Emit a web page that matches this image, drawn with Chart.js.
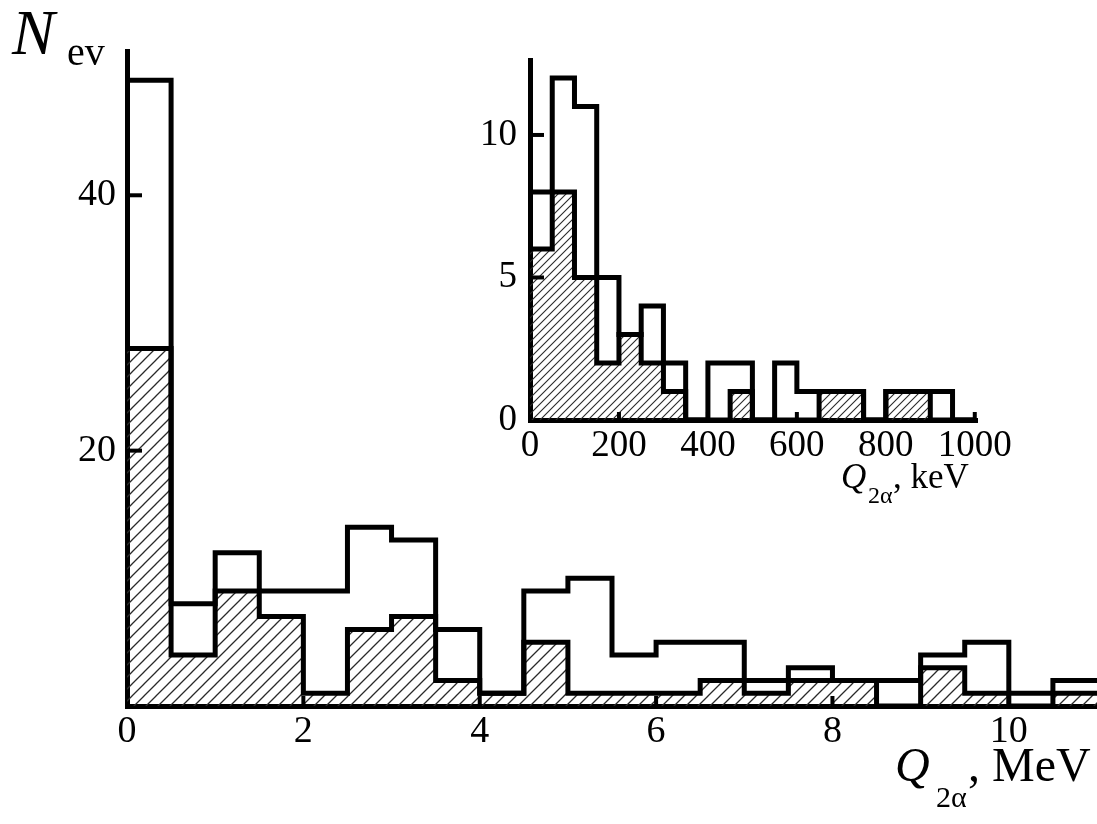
<!DOCTYPE html>
<html>
<head>
<meta charset="utf-8">
<script src="https://cdn.jsdelivr.net/npm/chart.js@4.4.1/dist/chart.umd.min.js"></script>
<style>
  body { margin: 0; background: #fff; }
  #wrap { position: relative; width: 1097px; height: 824px; }
  canvas { position: absolute; left: 0; top: 0; }
</style>
</head>
<body>
<div id="wrap">
  <canvas id="mainChart" width="1097" height="824"></canvas>
  <canvas id="insetChart" width="1097" height="824"></canvas>
</div>
<script>
// main histogram: 0.5 MeV bins from 0
const mevBinWidth = 0.5;
const mevAll = [49, 8, 12, 9, 9, 14, 13, 6, 1, 9, 10, 4, 5, 5, 2, 3, 2, 2, 4, 5, 1, 2];
const mevHatched = [28, 4, 9, 7, 1, 6, 7, 2, 1, 5, 1, 1, 1, 2, 1, 2, 2, 0, 3, 1, 0, 1];
const mevTicks = [0, 2, 4, 6, 8, 10];
const countTicks = [20, 40];

// inset: 50 keV bins from 0
const kevBinWidth = 50;
const kevAll = [8, 12, 11, 5, 3, 4, 2, 0, 2, 2, 0, 2, 1, 1, 1, 0, 1, 1, 1, 0];
const kevHatched = [6, 8, 5, 2, 3, 2, 1, 0, 0, 1, 0, 0, 0, 1, 1, 0, 1, 1, 0, 0];
const kevTicks = [0, 200, 400, 600, 800, 1000];
const insetCountTicks = [0, 5, 10];

const serif = "'Liberation Serif', 'DejaVu Serif', serif";
Chart.defaults.font.family = serif;
Chart.defaults.color = '#000';

// histogram outline as step points: one point per bin edge,
// 'before' keeps each count level until the next edge
function steps(counts, w) {
  const pts = counts.map((c, i) => ({x: i * w, y: c}));
  pts.push({x: counts.length * w, y: counts[counts.length - 1]});
  return pts;
}

// "/" hatching tile
function hatch(step, lw) {
  const c = document.createElement('canvas');
  c.width = step; c.height = step;
  const g = c.getContext('2d');
  g.strokeStyle = '#2a2a2a';
  g.lineWidth = lw;
  g.beginPath();
  g.moveTo(-1, step + 1); g.lineTo(step + 1, -1);
  g.moveTo(-1, 1); g.lineTo(1, -1);
  g.moveTo(step - 1, step + 1); g.lineTo(step + 1, step - 1);
  g.stroke();
  return g.createPattern(c, 'repeat');
}

function histSets(all, hatched, w, pattern) {
  const common = {stepped: 'before', pointRadius: 0, borderColor: '#000', borderWidth: 5,
                  borderJoinStyle: 'miter', borderCapStyle: 'butt'};
  return [
    Object.assign({data: steps(all, w), fill: false}, common),
    Object.assign({data: steps(hatched, w), fill: 'origin', backgroundColor: pattern}, common)
  ];
}

// tick marks pointing into the plot
const innerTicks = {
  id: 'innerTicks',
  afterDraw(chart, args, o) {
    const {ctx, scales: {x, y}} = chart;
    ctx.save();
    ctx.strokeStyle = '#000';
    ctx.lineWidth = o.width;
    o.xTicks.forEach(v => {
      const px = x.getPixelForValue(v);
      ctx.beginPath(); ctx.moveTo(px, y.bottom); ctx.lineTo(px, y.bottom - o.xLen); ctx.stroke();
    });
    o.yTicks.forEach(v => {
      const py = y.getPixelForValue(v);
      ctx.beginPath(); ctx.moveTo(x.left, py); ctx.lineTo(x.left + o.yLen, py); ctx.stroke();
    });
    ctx.restore();
  }
};

// axis titles with italic symbols and subscripts
const titles = {
  id: 'titles',
  afterDraw(chart, args, o) {
    const ctx = chart.ctx;
    ctx.save();
    ctx.fillStyle = '#000';
    ctx.textBaseline = 'alphabetic';
    o.runs.forEach(r => {
      ctx.font = r.font;
      ctx.fillText(r.text, r.x, r.y);
    });
    ctx.restore();
  }
};

function axes(xMax, yMax, xTicks, yTicks, yWidth, xHeight, fontSize, yPad, xPad) {
  return {
    x: {
      type: 'linear', min: 0, max: xMax,
      grid: {display: false},
      border: {display: true, width: 5, color: '#000'},
      afterBuildTicks: s => { s.ticks = xTicks.map(v => ({value: v})); },
      afterFit: s => { s.height = xHeight; },
      ticks: {font: {size: fontSize}, padding: xPad, maxRotation: 0, autoSkip: false,
              callback: v => String(v)}
    },
    y: {
      min: 0, max: yMax,
      grid: {display: false},
      border: {display: true, width: 5, color: '#000'},
      afterBuildTicks: s => { s.ticks = yTicks.map(v => ({value: v})); },
      afterFit: s => { s.width = yWidth; },
      ticks: {font: {size: fontSize}, padding: yPad, autoSkip: false,
              callback: v => String(v)}
    }
  };
}

const mainCtx = document.getElementById('mainChart').getContext('2d');
new Chart(mainCtx, {
  type: 'line',
  data: {datasets: histSets(mevAll, mevHatched, mevBinWidth, hatch(12, 1.3))},
  options: {
    responsive: false,
    animation: false,
    events: [],
    layout: {padding: {top: 51, right: 0, left: 0, bottom: 0}},
    scales: axes(11.0, 51.3, mevTicks, countTicks, 127, 118, 38, 3, -5),
    plugins: {
      legend: {display: false},
      tooltip: {enabled: false},
      innerTicks: {width: 4, xLen: 10, yLen: 15, xTicks: [2, 4, 6, 8, 10], yTicks: countTicks},
      titles: {runs: [
        {text: 'N', x: 12, y: 54, font: 'italic 64px ' + serif},
        {text: 'ev', x: 67, y: 65, font: '40px ' + serif},
        {text: 'Q', x: 895, y: 781, font: 'italic 48px ' + serif},
        {text: '2\u03B1', x: 936, y: 807, font: '30px ' + serif},
        {text: ', MeV', x: 968, y: 781, font: '48px ' + serif}
      ]}
    }
  },
  plugins: [innerTicks, titles]
});

const insetCtx = document.getElementById('insetChart').getContext('2d');
new Chart(insetCtx, {
  type: 'line',
  data: {datasets: histSets(kevAll, kevHatched, kevBinWidth, hatch(8, 1.1))},
  options: {
    responsive: false,
    animation: false,
    events: [],
    layout: {padding: {top: 60, right: 120, left: 0, bottom: 0}},
    scales: axes(1005, 12.63, kevTicks, insetCountTicks, 530, 404, 37, 5, -4),
    plugins: {
      legend: {display: false},
      tooltip: {enabled: false},
      innerTicks: {width: 4, xLen: 8, yLen: 14, xTicks: [200, 400, 600, 800, 1000], yTicks: [5, 10]},
      titles: {runs: [
        {text: 'Q', x: 841, y: 488, font: 'italic 35px ' + serif},
        {text: '2\u03B1', x: 868, y: 503, font: '24px ' + serif},
        {text: ', keV', x: 893, y: 488, font: '35px ' + serif}
      ]}
    }
  },
  plugins: [innerTicks, titles]
});
</script>
</body>
</html>
